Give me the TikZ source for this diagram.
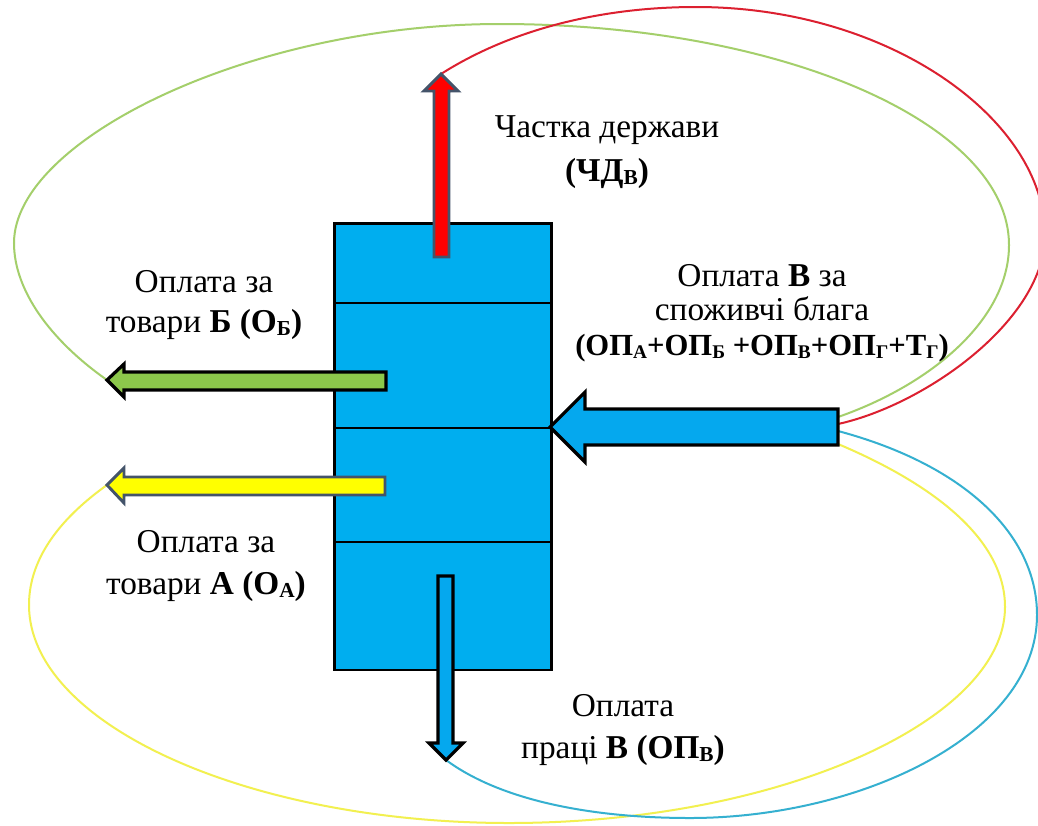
\documentclass[tikz,border=0pt]{standalone}
\usepackage{fontspec}
\setmainfont{Liberation Serif}
\newcommand{\smc}[1]{\raisebox{-0.1em}{\fontsize{16}{16}\selectfont\bfseries #1}}
\newcommand{\smf}[1]{\raisebox{-0.1em}{\fontsize{14.5}{14.5}\selectfont\bfseries #1}}
\definecolor{blockblue}{HTML}{00AEEF}
\definecolor{arrowblue}{HTML}{05A8EE}
\definecolor{arrowgreen}{HTML}{8CC84B}
\definecolor{arrowyellow}{HTML}{FFFF00}
\definecolor{arrowred}{HTML}{FF0000}
\definecolor{slateedge}{HTML}{44546A}
\definecolor{curvegreen}{HTML}{A4CF6B}
\definecolor{curvered}{HTML}{DC2030}
\definecolor{curveyellow}{HTML}{F2F050}
\definecolor{curveblue}{HTML}{35B0D0}
\tikzset{
  blackarrow/.style={draw=black,line width=2.4pt,line join=miter},
  slatearrow/.style={draw=slateedge,line width=2.2pt,line join=miter},
  divider/.style={draw=black,line width=1.2pt},
  curve/.style={line width=1.5pt},
  lab/.style={align=center,font=\fontsize{25}{#1}\selectfont,inner sep=0pt}
}
\begin{document}
\begin{tikzpicture}[x=0.75pt,y=-0.75pt]
\useasboundingbox (0,0) rectangle (1038,825);
\fill[white] (0,0) rectangle (1038,825);
\node[draw=black,fill=blockblue,line width=2.1pt,minimum width=162.75pt,minimum height=335pt,inner sep=0pt,anchor=north west] (block) at (333,222) {};
\draw[divider] (333,303) -- (550,303);
\draw[divider] (333,428) -- (550,428);
\draw[divider] (333,542) -- (550,542);
\coordinate (redtip) at (441,74);
\coordinate (greentip) at (107,380);
\coordinate (yellowtip) at (107,485);
\coordinate (bluetip) at (446,760);
\coordinate (payred) at (838,424);
\coordinate (paygreen) at (838,417);
\coordinate (payblue) at (838,431);
\coordinate (payyellow) at (838,444);
% curves
\draw[curve,curvegreen] (paygreen) .. controls (930,385) and (1009,320) .. (1009,245) .. controls (1009,123) and (781,24) .. (500,24) .. controls (250,24) and (14,140) .. (14,243) .. controls (14,290) and (50,340) .. (greentip);
\draw[curve,curvered] (payred) .. controls (925,405) and (1045,320) .. (1045,235) .. controls (1045,120) and (890,7) .. (696,7) .. controls (600,7) and (510,30) .. (redtip);
\draw[curve,curveyellow] (payyellow) .. controls (935,485) and (1005,540) .. (1005,607) .. controls (1005,720) and (780,823) .. (509,823) .. controls (250,823) and (29,725) .. (29,605) .. controls (29,555) and (65,515) .. (yellowtip);
\draw[curve,curveblue] (payblue) .. controls (965,465) and (1037,535) .. (1037,615) .. controls (1037,735) and (860,818) .. (690,818) .. controls (590,818) and (500,800) .. (bluetip);
% block arrows
\draw[slatearrow,fill=arrowred] (redtip) -- (458,91) -- (449,91) -- (449,257) -- (434,257) -- (434,91) -- (424,91) -- cycle;
\draw[blackarrow,fill=arrowgreen] (greentip) -- (124,364) -- (124,372) -- (386,372) -- (386,390) -- (124,390) -- (124,397) -- cycle;
\draw[slatearrow,fill=arrowyellow] (yellowtip) -- (124,468) -- (124,477) -- (385,477) -- (385,495) -- (124,495) -- (124,503) -- cycle;
\draw[blackarrow,fill=arrowblue] (550,427) -- (585,392) -- (585,409) -- (838,409) -- (838,445) -- (585,445) -- (585,462) -- cycle;
\draw[blackarrow,fill=arrowblue] (bluetip) -- (463,743) -- (453,743) -- (453,576) -- (438,576) -- (438,743) -- (429,743) -- cycle;
% labels
\node[lab=33pt] (chd) at (607,152) {Частка держави\\\textbf{(ЧД\smc{В})}};
\node[lab=26pt] (opv) at (762,313) {Оплата \textbf{В} за\\споживчі блага\\{\fontsize{23}{26}\selectfont\textbf{(ОП\smf{А}+ОП\smf{Б} +ОП\smf{В}+ОП\smf{Г}+Т\smf{Г})}}};
\node[lab=30pt] (ob) at (204,305) {Оплата за\\товари \textbf{Б} \textbf{(О\smc{Б})}};
\node[lab=31pt] (oa) at (206,566) {Оплата за\\товари \textbf{А} \textbf{(О\smc{А})}};
\node[lab=31pt] (opr) at (623,730) {Оплата\\праці \textbf{В} \textbf{(ОП\smc{В})}};
\end{tikzpicture}
\end{document}
